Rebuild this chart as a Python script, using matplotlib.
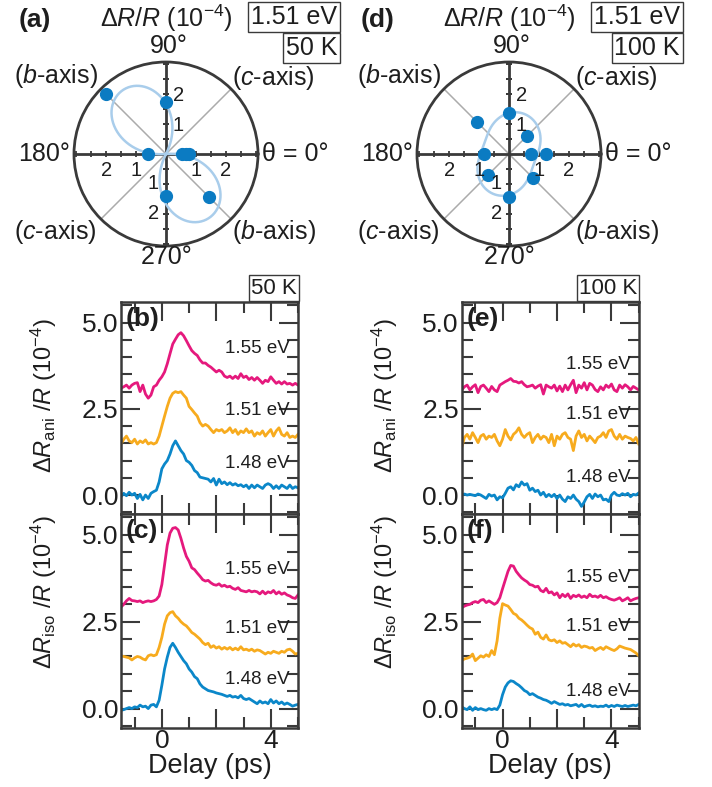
import numpy as np
import matplotlib
matplotlib.use("Agg")
import matplotlib.pyplot as plt
import matplotlib.transforms as mtransforms
from matplotlib.ticker import MultipleLocator

plt.rcParams['font.family'] = ['Liberation Sans', 'DejaVu Sans']
plt.rcParams['mathtext.fontset'] = 'custom'
plt.rcParams['mathtext.rm'] = 'Liberation Sans'
plt.rcParams['mathtext.it'] = 'Liberation Sans:italic'
plt.rcParams['mathtext.bf'] = 'Liberation Sans:bold'

# --- datos ---
DELAY = np.round(np.arange(-1.5, 5.001, 0.1), 2)   # ps, paso 0.1
ENERGIES = ['1.55 eV', '1.51 eV', '1.48 eV']
COLORS = ['#E5197D', '#F7AB1E', '#0B87C9']

# (b) dR_ani/R, 50 K
B155 = [3.10, 3.14, 3.19, 3.10, 3.19, 3.24, 3.26, 3.00, 3.19, 2.93, 2.81,
        2.90, 3.14, 3.19, 3.33, 3.43, 3.57, 3.81, 4.10, 4.38, 4.52, 4.65,
        4.71, 4.62, 4.48, 4.33, 4.19, 4.11, 4.05, 3.92, 3.83, 3.83, 3.76,
        3.71, 3.64, 3.57, 3.62, 3.57, 3.45, 3.41, 3.45, 3.38, 3.45, 3.38,
        3.52, 3.41, 3.45, 3.35, 3.41, 3.33, 3.41, 3.33, 3.24, 3.33, 3.29,
        3.43, 3.33, 3.24, 3.29, 3.22, 3.29, 3.22, 3.24, 3.19, 3.24, 3.19]
B151 = [1.48, 1.62, 1.71, 1.57, 1.52, 1.62, 1.48, 1.57, 1.52, 1.60, 1.48,
        1.52, 1.48, 1.52, 1.71, 2.00, 2.29, 2.57, 2.81, 2.95, 3.00, 2.97,
        3.00, 2.90, 2.81, 2.57, 2.48, 2.38, 2.29, 2.10, 2.00, 2.05, 2.00,
        1.90, 1.81, 1.90, 1.86, 1.90, 1.81, 1.86, 1.95, 1.81, 1.90, 1.76,
        1.86, 1.81, 1.92, 1.81, 1.86, 1.71, 1.81, 1.76, 1.86, 1.71, 1.81,
        1.90, 1.71, 1.86, 1.95, 1.76, 1.71, 1.81, 1.67, 1.71, 1.67, 1.76]
B148 = [-0.05, 0.05, -0.02, 0.08, 0.00, 0.05, -0.10, 0.02, -0.14, 0.00, -0.10,
        0.05, 0.10, 0.14, 0.38, 0.76, 0.90, 1.00, 1.19, 1.43, 1.57, 1.43,
        1.29, 1.19, 1.00, 0.95, 0.86, 0.71, 0.65, 0.52, 0.50, 0.48, 0.46,
        0.38, 0.48, 0.29, 0.46, 0.33, 0.38, 0.30, 0.36, 0.29, 0.33, 0.27,
        0.30, 0.24, 0.29, 0.19, 0.29, 0.21, 0.29, 0.24, 0.19, 0.29, 0.33,
        0.29, 0.19, 0.27, 0.19, 0.29, 0.24, 0.19, 0.29, 0.19, 0.24, 0.21]

# (c) dR_iso/R, 50 K
C155 = [2.92, 3.00, 3.10, 3.17, 3.11, 3.10, 3.08, 3.10, 3.05, 3.08, 3.10,
        3.08, 3.10, 3.14, 3.24, 3.57, 4.14, 4.71, 5.05, 5.19, 5.21, 5.14,
        4.90, 4.62, 4.38, 4.24, 4.05, 4.00, 3.90, 3.81, 3.71, 3.67, 3.69,
        3.62, 3.57, 3.55, 3.59, 3.52, 3.55, 3.50, 3.52, 3.46, 3.43, 3.48,
        3.40, 3.38, 3.36, 3.40, 3.36, 3.38, 3.36, 3.30, 3.38, 3.30, 3.36,
        3.33, 3.40, 3.30, 3.36, 3.29, 3.33, 3.27, 3.24, 3.19, 3.17, 3.27]
C151 = [1.52, 1.50, 1.48, 1.46, 1.40, 1.46, 1.50, 1.48, 1.43, 1.40, 1.52,
        1.55, 1.52, 1.55, 1.76, 2.05, 2.43, 2.67, 2.76, 2.79, 2.67, 2.60,
        2.50, 2.43, 2.38, 2.29, 2.19, 2.14, 2.07, 2.00, 1.90, 1.84, 1.88,
        1.76, 1.81, 1.74, 1.78, 1.71, 1.76, 1.71, 1.76, 1.69, 1.74, 1.69,
        1.78, 1.69, 1.71, 1.67, 1.71, 1.65, 1.69, 1.67, 1.62, 1.57, 1.62,
        1.59, 1.65, 1.62, 1.59, 1.65, 1.62, 1.69, 1.71, 1.65, 1.57, 1.59]
C148 = [-0.05, -0.03, 0.00, 0.03, 0.00, 0.05, 0.03, 0.10, 0.05, 0.07, 0.00,
        0.10, 0.12, 0.05, 0.24, 0.67, 1.14, 1.48, 1.76, 1.88, 1.76, 1.62,
        1.50, 1.38, 1.29, 1.14, 1.05, 0.92, 0.86, 0.71, 0.62, 0.57, 0.52,
        0.50, 0.48, 0.45, 0.43, 0.41, 0.38, 0.35, 0.38, 0.33, 0.35, 0.31,
        0.38, 0.29, 0.26, 0.29, 0.24, 0.19, 0.14, 0.22, 0.16, 0.19, 0.14,
        0.26, 0.16, 0.22, 0.14, 0.19, 0.12, 0.16, 0.12, 0.07, 0.10, 0.12]

# (e) dR_ani/R, 100 K
E155 = [3.05, 3.14, 3.19, 3.05, 3.14, 3.20, 2.97, 3.15, 3.19, 3.10, 3.00,
        3.15, 3.05, 3.00, 3.19, 3.24, 3.29, 3.33, 3.38, 3.30, 3.29, 3.25,
        3.29, 3.20, 3.14, 3.16, 3.19, 3.10, 3.16, 3.20, 2.93, 3.19, 3.14,
        3.10, 3.19, 3.02, 3.16, 3.00, 3.19, 3.05, 3.20, 3.33, 2.97, 3.19,
        3.10, 3.26, 3.05, 3.24, 3.19, 3.06, 3.00, 3.14, 3.05, 3.19, 3.12,
        3.22, 3.05, 3.00, 3.19, 3.10, 3.20, 3.14, 3.05, 3.15, 3.10, 3.05]
E151 = [1.38, 1.67, 1.76, 1.62, 1.81, 1.67, 1.52, 1.71, 1.76, 1.62, 1.71,
        1.67, 1.76, 1.57, 1.43, 1.62, 1.90, 1.71, 1.60, 1.76, 1.83, 1.95,
        1.76, 1.67, 1.76, 1.81, 1.52, 1.67, 1.76, 1.62, 1.71, 1.67, 1.52,
        1.76, 1.43, 1.71, 1.62, 1.76, 1.81, 1.67, 1.62, 1.29, 1.71, 1.86,
        1.67, 1.76, 1.57, 1.71, 1.62, 1.52, 1.67, 1.71, 1.81, 1.67, 1.86,
        1.90, 1.71, 1.62, 1.76, 1.62, 1.71, 1.67, 1.64, 1.57, 1.67, 1.48]
E148 = [0.00, 0.03, 0.00, 0.02, 0.00, -0.02, 0.03, 0.00, -0.05, -0.10, 0.02,
        -0.03, 0.00, -0.14, -0.05, -0.08, 0.05, 0.20, 0.24, 0.15, 0.30, 0.24,
        0.38, 0.29, 0.33, 0.14, 0.20, 0.10, 0.14, 0.00, 0.08, -0.05, 0.02,
        -0.05, 0.02, -0.10, 0.00, -0.12, -0.19, -0.05, -0.10, 0.00, -0.12, -0.19,
        -0.33, -0.20, -0.05, 0.02, -0.10, 0.03, -0.05, 0.00, -0.14, -0.12, -0.19,
        0.00, 0.08, 0.00, -0.02, 0.04, 0.00, 0.05, -0.05, 0.02, 0.00, 0.06]

# (f) dR_iso/R, 100 K
F155 = [2.90, 2.95, 2.98, 3.00, 3.05, 3.08, 3.05, 3.12, 3.14, 3.05, 3.10,
        3.05, 3.00, 3.05, 3.19, 3.45, 3.70, 3.95, 4.12, 4.10, 3.95, 3.85,
        3.76, 3.70, 3.65, 3.57, 3.55, 3.50, 3.52, 3.40, 3.36, 3.46, 3.33,
        3.36, 3.27, 3.33, 3.19, 3.29, 3.22, 3.30, 3.17, 3.26, 3.22, 3.27,
        3.20, 3.24, 3.19, 3.29, 3.22, 3.24, 3.20, 3.26, 3.19, 3.22, 3.17,
        3.14, 3.12, 3.15, 3.19, 3.10, 3.14, 3.19, 3.10, 3.14, 3.17, 3.19]
F151 = [1.38, 1.43, 1.45, 1.48, 1.57, 1.38, 1.45, 1.52, 1.48, 1.55, 1.50,
        1.67, 1.55, 1.95, 2.60, 3.02, 2.98, 2.95, 2.85, 2.74, 2.70, 2.60,
        2.55, 2.48, 2.40, 2.33, 2.29, 2.14, 2.20, 2.05, 2.00, 2.12, 1.98,
        1.95, 1.98, 1.90, 1.95, 1.88, 1.90, 1.84, 1.78, 1.86, 1.80, 1.84,
        1.76, 1.80, 1.78, 1.74, 1.76, 1.67, 1.72, 1.76, 1.70, 1.78, 1.74,
        1.70, 1.67, 1.72, 1.80, 1.77, 1.74, 1.72, 1.70, 1.65, 1.60, 1.52]
F148 = [0.05, 0.00, -0.03, 0.05, -0.05, 0.03, -0.03, 0.00, -0.03, -0.05, 0.00,
        -0.03, 0.00, -0.03, 0.10, 0.40, 0.62, 0.74, 0.80, 0.78, 0.72, 0.67,
        0.60, 0.52, 0.48, 0.40, 0.43, 0.38, 0.33, 0.30, 0.26, 0.24, 0.20,
        0.15, 0.20, 0.16, 0.12, 0.14, 0.10, 0.12, 0.08, 0.10, 0.12, 0.06,
        0.12, 0.05, 0.08, 0.10, 0.06, 0.08, 0.05, 0.07, 0.06, 0.10, 0.05,
        0.09, 0.06, 0.10, 0.08, 0.06, 0.09, 0.06, 0.08, 0.10, 0.08, 0.12]

# posiciones (en datos) de las etiquetas de energia
EY_B = [4.26, 2.46, 0.91]
EY_C = [4.01, 2.31, 0.83]
EY_E = [3.78, 2.34, 0.51]
EY_F = [3.77, 2.36, 0.50]

# polares: angulo (grados) y dR/R (1e-4)
POL_ANG_50K = [0, 0, 0, 90, 135, 180, 270, 315]
POL_R_50K = [0.53, 0.67, 0.76, 1.74, 2.83, 0.61, 1.39, 2.04]
POL_ANG_100K = [0, 0, 45, 90, 135, 180, 225, 270, 315]
POL_R_100K = [0.72, 1.23, 0.86, 1.36, 1.53, 0.82, 1.00, 1.42, 1.11]
# ajuste: r = escala * (offset + cos 2(th - phi))^p
FIT_50K = (1.86, 0.5, 124.0, 0.8)
FIT_100K = (0.27, 4.3, 70.0, 1.0)

R_MAX = 3.07
DARK = '#3a3a3a'
TXT = '#1e1e1e'
DOT = '#0B7BC2'
FITC = '#A9CDEB'

W, H = 712, 787
fig = plt.figure(figsize=(W / 100, H / 100), dpi=100)


def fx(px):
    return px / W


def fy(py):
    return 1 - py / H


def modelo(th_deg, escala, off, phi, p):
    c = off + np.cos(2 * np.radians(th_deg - phi))
    return escala * np.clip(c, 0, None) ** p


def panel_polar(cx, letra, temp, ang, rad, fit):
    cy, rpx = 154, 92
    ax = fig.add_axes([fx(cx - rpx), fy(cy + rpx), 2 * rpx / W, 2 * rpx / H],
                      projection='polar')
    ax.set_ylim(0, R_MAX)
    ax.set_xticks([])
    ax.set_yticks([])
    ax.grid(False)
    ax.spines['polar'].set_linewidth(2)
    ax.spines['polar'].set_color(DARK)
    for a in (45, 135, 225, 315):
        ax.plot(np.radians([a, a]), [0, R_MAX], color='#ababab', lw=1.1, zorder=1)
    for a in (0, 90, 180, 270):
        ax.plot(np.radians([a, a]), [0, R_MAX], color=DARK, lw=2, zorder=2)
    rt = np.arange(0.5, 3.01, 0.5)
    for a, mk in ((0, '|'), (180, '|'), (90, '_'), (270, '_')):
        ax.plot(np.full_like(rt, np.radians(a)), rt, ls='none', marker=mk,
                ms=5, mew=1.3, mec=DARK, zorder=2)
    th = np.linspace(0, 360, 721)
    ax.plot(np.radians(th), modelo(th, *fit), color=FITC, lw=1.8, zorder=3)
    ax.plot(np.radians(ang), rad, ls='none', marker='o', ms=8.5, color=DOT, zorder=4)

    # etiquetas radiales
    for r in (1, 2):
        for a, off in ((0, (0, -12)), (180, (0, -12)), (90, (9, -1)), (270, (-9, 0))):
            ax.annotate(str(r), xy=(np.radians(a), r), xytext=off,
                        textcoords='offset points', ha='center', va='center',
                        fontsize=14.5, color=TXT, zorder=5)

    kw = dict(transform=ax.transAxes, ha='center', va='center', fontsize=18,
              color=TXT)
    ax.text(0.515, 1.085, '90°', **kw)
    ax.text(0.505, -0.06, '270°', **kw)
    ax.text(-0.165, 0.5, '180°', **kw)
    ax.text(1.2, 0.5, 'θ = 0°', **kw)
    ax.text(-0.10, 0.922, '($\\mathit{b}$-axis)', **kw)
    ax.text(1.084, 0.913, '($\\mathit{c}$-axis)', **kw)
    ax.text(-0.10, 0.076, '($\\mathit{c}$-axis)', **kw)
    ax.text(1.084, 0.076, '($\\mathit{b}$-axis)', **kw)

    # cabecera
    fig.text(fx(cx - 131), fy(20), letra, ha='center', va='center',
             fontsize=19, fontweight='bold', color=TXT)
    fig.text(fx(cx + 0), fy(18), '$\\mathit{ΔR/R}$ (10$^{-4}$)', ha='center',
             va='center', fontsize=18, color=TXT)
    caja = dict(boxstyle='square,pad=0.12', fc='white', ec=DARK, lw=1)
    fig.text(fx(cx + 171), fy(17), '1.51 eV', ha='right', va='center',
             fontsize=18, color=TXT, bbox=caja)
    fig.text(fx(cx + 171), fy(48), temp, ha='right', va='center',
             fontsize=18, color=TXT, bbox=caja)
    return ax


def panel_traza(rect, series, ey, letra, ylab, lab_y, abajo):
    ax = fig.add_axes(rect)
    for s, c in zip(series, COLORS):
        ax.plot(DELAY, s, color=c, lw=2)
    ax.set_xlim(-1.5, 5.0)
    ax.set_ylim(-0.55, 5.6)
    ax.set_xticks([0, 2, 4])
    ax.xaxis.set_minor_locator(MultipleLocator(1))
    ax.set_yticks([0, 2.5, 5.0])
    ax.set_yticklabels(['0.0', '2.5', '5.0'])
    ax.yaxis.set_minor_locator(MultipleLocator(0.5))
    ax.tick_params(which='both', direction='in', top=True, right=True,
                   width=1.5, color=DARK, labelsize=19, pad=2,
                   labelcolor=TXT)
    ax.tick_params(which='major', length=14)
    ax.tick_params(which='minor', length=8)
    if abajo:
        ax.set_xticklabels(['0', '', '4'])
        ax.tick_params(axis='x', pad=1)
        ax.set_xlabel('Delay (ps)', fontsize=19.5, labelpad=0, color=TXT)
    else:
        ax.tick_params(labelbottom=False)
    for sp in ax.spines.values():
        sp.set_linewidth(1.8)
        sp.set_color(DARK)
    trans = mtransforms.blended_transform_factory(ax.transAxes, ax.transData)
    for y, t in zip(ey, ENERGIES):
        ax.text(0.955, y, t, transform=trans, ha='right', va='center',
                fontsize=13.5, color=TXT)
    ax.text(0.025, 0.975, letra, transform=ax.transAxes, ha='left', va='top',
            fontsize=19, fontweight='bold', color=TXT)
    ax.set_ylabel(ylab, fontsize=17, color=TXT)
    ax.yaxis.set_label_coords(-0.35, lab_y)
    return ax


lab_ani = '$\\mathit{ΔR}_{\\mathrm{ani}}$ /$\\mathit{R}$ (10$^{-4}$)'
lab_iso = '$\\mathit{ΔR}_{\\mathrm{iso}}$ /$\\mathit{R}$ (10$^{-4}$)'

panel_polar(166, '(a)', '50 K', POL_ANG_50K, POL_R_50K, FIT_50K)
panel_polar(509, '(d)', '100 K', POL_ANG_100K, POL_R_100K, FIT_100K)

x_izq, x_der, ancho = fx(121), fx(461.7), 177 / W
y_b, h_b = fy(514), 212 / H
y_c, h_c = fy(727.7), 213.7 / H

panel_traza([x_izq, y_b, ancho, h_b], [B155, B151, B148], EY_B, '(b)', lab_ani, 0.56, False)
panel_traza([x_izq, y_c, ancho, h_c], [C155, C151, C148], EY_C, '(c)', lab_iso, 0.635, True)
panel_traza([x_der, y_b, ancho, h_b], [E155, E151, E148], EY_E, '(e)', lab_ani, 0.56, False)
panel_traza([x_der, y_c, ancho, h_c], [F155, F151, F148], EY_F, '(f)', lab_iso, 0.635, True)

caja2 = dict(boxstyle='square,pad=0.1', fc='white', ec=DARK, lw=1)
fig.text(fx(297), fy(288), '50 K', ha='right', va='center', fontsize=16,
         color=TXT, bbox=caja2)
fig.text(fx(637), fy(288), '100 K', ha='right', va='center', fontsize=16,
         color=TXT, bbox=caja2)

fig.savefig('out.png', dpi=100)
